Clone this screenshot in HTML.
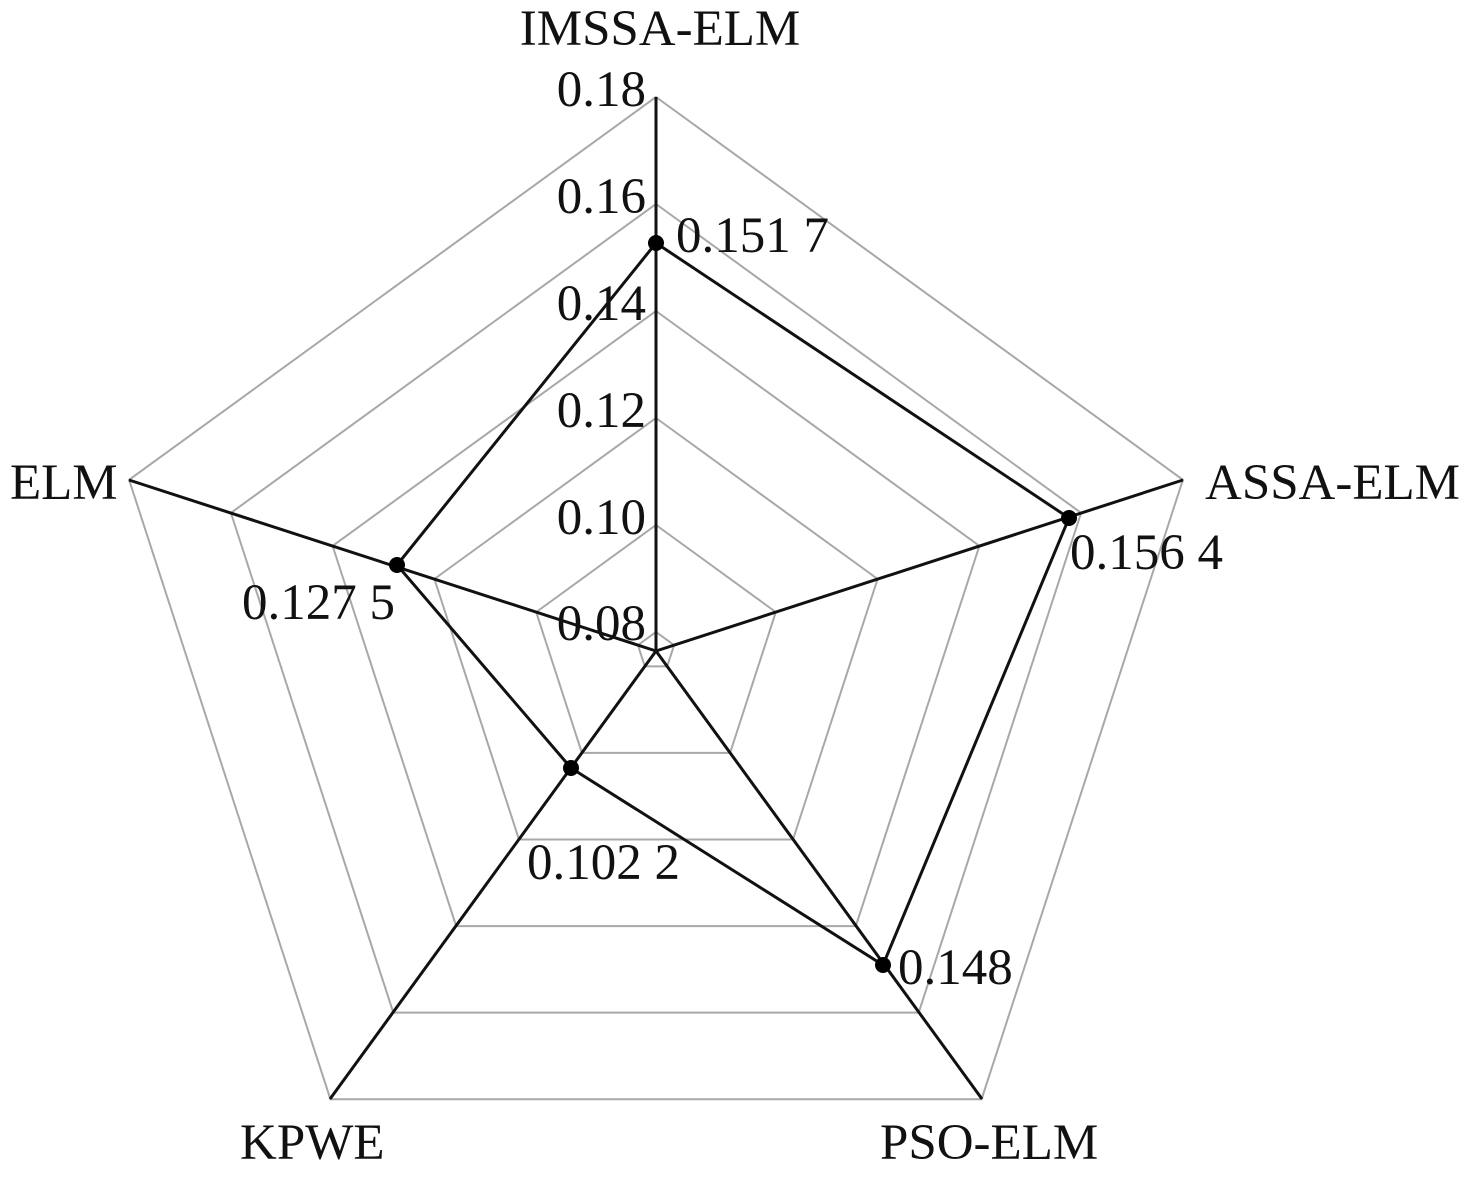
<!DOCTYPE html>
<html><head><meta charset="utf-8"><style>
html,body{margin:0;padding:0;background:#fff;}
text{font-family:"Liberation Serif",serif;font-size:51px;fill:#111;}
</style></head><body>
<svg width="1476" height="1173" viewBox="0 0 1476 1173" xmlns="http://www.w3.org/2000/svg">
<g id="rings" fill="none" stroke="#a8a8a8" stroke-width="2"></g>
<g stroke="#111" stroke-width="3">
<line x1="656" y1="651" x2="656" y2="97"/>
<line x1="656" y1="651" x2="1183" y2="480"/>
<line x1="656" y1="651" x2="982" y2="1099"/>
<line x1="656" y1="651" x2="330" y2="1099"/>
<line x1="656" y1="651" x2="129" y2="480"/>
</g>
<polygon points="656,243 1069,518 883,965 571,768 397,565" fill="none" stroke="#111" stroke-width="3"/>
<g fill="#000">
<circle cx="656" cy="243" r="8"/><circle cx="1069" cy="518" r="8"/><circle cx="883" cy="965" r="8"/><circle cx="571" cy="768" r="8"/><circle cx="397" cy="565" r="8"/>
</g>
<g text-anchor="end">
<text x="646" y="106">0.18</text>
<text x="646" y="213">0.16</text>
<text x="646" y="320">0.14</text>
<text x="646" y="427">0.12</text>
<text x="646" y="534">0.10</text>
<text x="646" y="640">0.08</text>
</g>
<text x="660" y="45" text-anchor="middle">IMSSA-ELM</text>
<text x="10" y="499">ELM</text>
<text x="1205" y="499">ASSA-ELM</text>
<text x="240" y="1159">KPWE</text>
<text x="880" y="1159">PSO-ELM</text>
<text x="676" y="252">0.151 7</text>
<text x="1070" y="569">0.156 4</text>
<text x="242" y="619">0.127 5</text>
<text x="527" y="879">0.102 2</text>
<text x="898" y="984">0.148</text>
</svg>
<script>
var g=document.getElementById('rings');var cx=656,cy=651;
[554,447,340,233,126,19].forEach(function(r){var p=[];for(var i=0;i<5;i++){var a=(-90+72*i)*Math.PI/180;p.push((cx+r*Math.cos(a)).toFixed(1)+','+(cy+r*Math.sin(a)).toFixed(1));}
var e=document.createElementNS('http://www.w3.org/2000/svg','polygon');e.setAttribute('points',p.join(' '));g.appendChild(e);});
</script>
</body></html>
